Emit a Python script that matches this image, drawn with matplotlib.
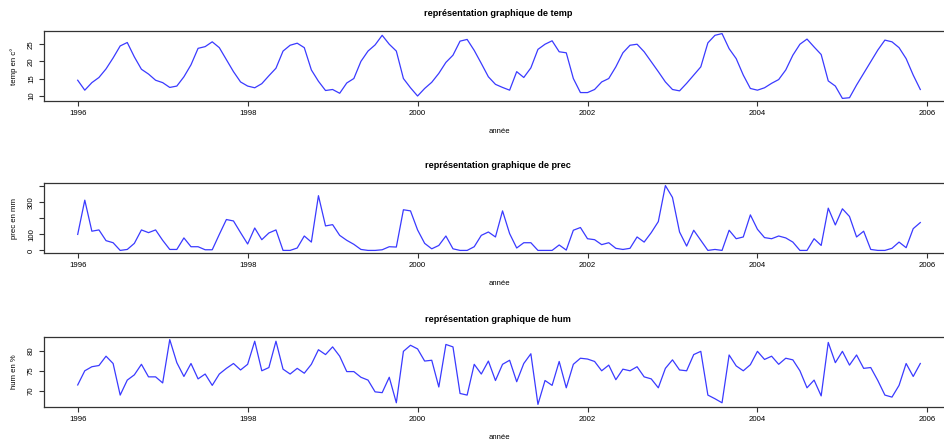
import numpy as np
import matplotlib
matplotlib.use("Agg")
from matplotlib import pyplot as plt

plt.rcParams['font.family'] = ['Liberation Sans', 'DejaVu Sans']

# monthly series, Jan 1996 .. Dec 2005
mois = 1996 + np.arange(120) / 12

temp = [14.5, 11.6, 13.8, 15.3, 17.8, 21.0, 24.5, 25.5, 21.3, 17.7, 16.3, 14.5,
        13.8, 12.4, 12.8, 15.5, 19.0, 23.8, 24.3, 25.7, 24.0, 20.5, 17.0, 14.0,
        12.8, 12.3, 13.5, 15.8, 18.0, 23.0, 24.7, 25.3, 24.0, 17.5, 14.2, 11.5,
        11.8, 10.7, 13.7, 15.0, 20.0, 23.0, 24.8, 27.6, 25.0, 23.0, 15.0, 12.3,
        9.9, 12.1, 13.9, 16.5, 19.7, 21.8, 25.9, 26.4, 23.2, 19.4, 15.5, 13.3,
        12.4, 11.6, 17.0, 15.3, 18.1, 23.5, 25.0, 26.0, 22.8, 22.5, 15.0, 10.9,
        10.9, 11.8, 14.0, 15.0, 18.4, 22.5, 24.7, 25.0, 22.8, 19.9, 17.0, 14.0,
        11.8, 11.4, 13.6, 16.0, 18.4, 25.4, 27.6, 28.1, 23.7, 20.8, 16.0, 12.1,
        11.6, 12.3, 13.6, 14.7, 17.5, 21.8, 25.0, 26.5, 24.2, 22.0, 14.3, 12.8,
        9.2, 9.4, 13.1, 16.5, 19.9, 23.3, 26.2, 25.7, 24.0, 20.8, 16.0, 11.8]

prec = [100, 314, 120, 128, 61, 48, 0, 6, 44, 128, 111, 128,
        63, 6, 6, 78, 23, 23, 4, 4, 100, 193, 184, 111,
        40, 140, 67, 109, 128, 0, 0, 15, 90, 52, 342, 153,
        161, 94, 63, 38, 6, 0, 0, 4, 23, 21, 254, 247,
        128, 44, 10, 31, 90, 10, 0, 0, 23, 94, 115, 84,
        247, 105, 15, 48, 48, 0, 0, 0, 34, 2, 126, 143,
        73, 67, 36, 48, 13, 6, 13, 84, 52, 111, 180, 405,
        331, 115, 27, 126, 63, 0, 6, 0, 126, 73, 84, 222,
        132, 80, 73, 90, 78, 52, 0, 0, 73, 31, 264, 159,
        260, 212, 84, 120, 6, 0, 0, 13, 52, 17, 136, 174]

hum = [71.5, 75.0, 76.0, 76.3, 78.6, 76.8, 69.0, 72.7, 74.0, 76.6, 73.5, 73.5,
       72.0, 82.7, 77.0, 73.6, 76.8, 73.0, 74.2, 71.4, 74.2, 75.6, 76.8, 75.2,
       76.6, 82.3, 75.0, 75.8, 82.3, 75.4, 74.2, 75.6, 74.4, 76.6, 80.2, 79.0,
       80.9, 78.6, 74.8, 74.8, 73.4, 72.7, 69.8, 69.6, 73.4, 67.1, 79.8, 81.3,
       80.4, 77.4, 77.6, 71.0, 81.5, 80.9, 69.4, 69.0, 76.6, 74.2, 77.4, 72.6,
       76.6, 77.6, 72.3, 76.8, 79.2, 66.7, 72.6, 71.4, 77.3, 70.8, 76.6, 78.1,
       77.9, 77.3, 75.0, 76.4, 72.8, 75.4, 75.0, 76.0, 73.5, 73.0, 70.8, 75.6,
       77.7, 75.2, 75.0, 79.0, 79.8, 69.0, 68.1, 67.1, 78.9, 76.2, 75.0, 76.5,
       79.8, 77.8, 78.6, 76.6, 78.1, 77.7, 75.0, 70.8, 72.7, 68.8, 82.0, 77.0,
       79.8, 76.4, 78.9, 75.6, 75.8, 72.6, 69.0, 68.5, 71.4, 76.8, 73.6, 76.8]

series = [("temp", temp, "temp en c°", [10, 15, 20, 25], ["10", "15", "20", "25"]),
          ("prec", prec, "prec en mm", [0, 100, 200, 300, 400], ["0", "100", "", "300", ""]),
          ("hum", hum, "hum en %", [70, 75, 80], ["70", "75", "80"])]
annees = [1996, 1998, 2000, 2002, 2004, 2006]

W, H = 944, 443
fig = plt.figure(figsize=(W / 100, H / 100), dpi=100)

# panel top/bottom in pixels
tops = [31, 183, 337]
bots = [101, 253, 407]
left, right = 44, 954

for (nom, y, ylab, yt, ytl), t, b in zip(series, tops, bots):
    ax = fig.add_axes([left / W, 1 - b / H, (right - left) / W, (b - t) / H])
    ax.plot(mois, y, color="#3a3aff", lw=0.9)
    # R style 4% padding
    lo, hi = min(y), max(y)
    pad = 0.04 * (hi - lo)
    ax.set_ylim(lo - pad, hi + pad)
    span = mois[-1] - mois[0]
    ax.set_xlim(mois[0] - 0.04 * span, mois[-1] + 0.04 * span)
    ax.set_xticks(annees)
    ax.set_xticklabels([str(a) for a in annees])
    ax.set_yticks(yt)
    ax.set_yticklabels(ytl, rotation=90, va="center")
    for s in ax.spines.values():
        s.set_color("#333333")
        s.set_linewidth(0.9)
    ax.tick_params(direction="out", length=3.5, width=0.8, color="#333333",
                   labelsize=5.6, pad=3)
    ax.set_title("représentation graphique de " + nom, fontsize=6.6,
                 fontweight="bold", pad=11, x=(498 - left) / (right - left))
    ax.set_xlabel("année", fontsize=5.6, labelpad=8)
    ax.set_ylabel(ylab, fontsize=5.6, labelpad=7)

fig.savefig("out.png", dpi=100)
